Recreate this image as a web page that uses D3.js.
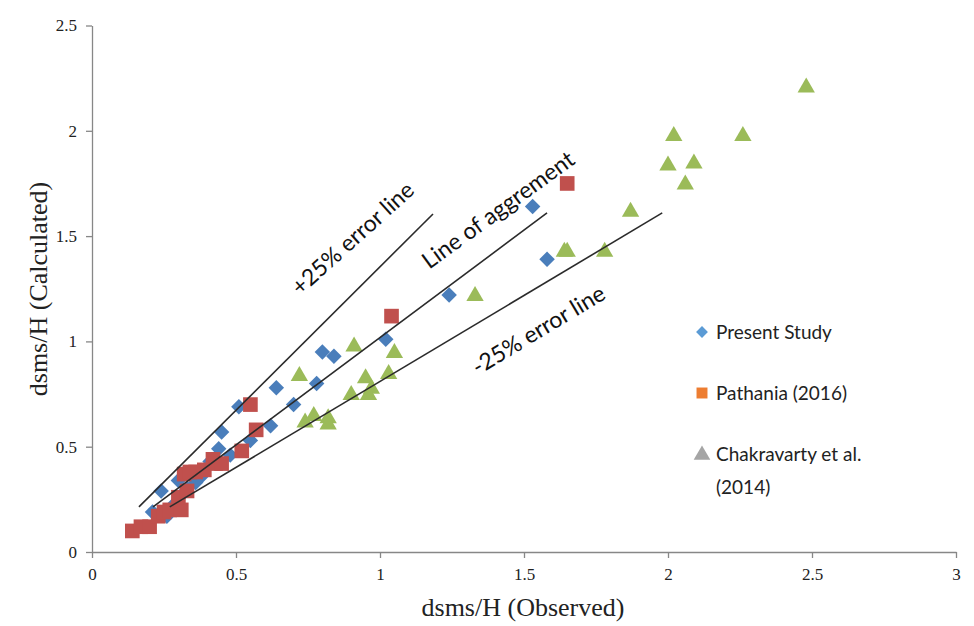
<!DOCTYPE html>
<html>
<head>
<meta charset="utf-8">
<script src="https://cdn.jsdelivr.net/npm/d3@7"></script>
<style>
  body { margin: 0; background: #fff; }
  svg { display: block; }
</style>
</head>
<body>
<svg id="chart" width="974" height="626"></svg>
<script>
// Present Study (blue diamonds): [observed, calculated]
let presentStudy = [
  [0.21, 0.19], [0.26, 0.17], [0.28, 0.22], [0.24, 0.29], [0.31, 0.27],
  [0.30, 0.34], [0.33, 0.30], [0.36, 0.33], [0.38, 0.36], [0.41, 0.43],
  [0.48, 0.46], [0.44, 0.49], [0.55, 0.53], [0.45, 0.57], [0.51, 0.69],
  [0.62, 0.60], [0.64, 0.78], [0.70, 0.70], [0.78, 0.80], [0.80, 0.95],
  [0.84, 0.93], [1.02, 1.01], [1.24, 1.22], [1.53, 1.64], [1.58, 1.39]
];

// Pathania (2016) (red squares)
let pathania = [
  [0.14, 0.10], [0.17, 0.12], [0.20, 0.12], [0.23, 0.17], [0.25, 0.19],
  [0.27, 0.20], [0.31, 0.20], [0.30, 0.26], [0.33, 0.29], [0.32, 0.37],
  [0.34, 0.38], [0.36, 0.38], [0.39, 0.39], [0.42, 0.44], [0.43, 0.42],
  [0.45, 0.42], [0.52, 0.48], [0.57, 0.58], [0.55, 0.70], [1.04, 1.12],
  [1.65, 1.75]
];

// Chakravarty et al. (2014) (green triangles)
let chakravarty = [
  [0.72, 0.84], [0.74, 0.62], [0.77, 0.65], [0.82, 0.64], [0.82, 0.61],
  [0.91, 0.98], [0.95, 0.83], [0.97, 0.78], [0.90, 0.75], [0.96, 0.75],
  [1.03, 0.85], [1.05, 0.95], [1.33, 1.22], [1.64, 1.43], [1.65, 1.43],
  [1.78, 1.43], [1.87, 1.62], [2.00, 1.84], [2.02, 1.98], [2.06, 1.75],
  [2.09, 1.85], [2.26, 1.98], [2.48, 2.21]
];

// reference lines: [[x1, y1], [x2, y2]]
let plus25Line = [[0.163, 0.214], [1.184, 1.605]];
let agreementLine = [[0.212, 0.214], [1.58, 1.61]];
let minus25Line = [[0.27, 0.214], [1.98, 1.61]];

// line labels: text, centre (data units), angle
let lineLabels = [
  { text: "+25% error line", x: 0.905, y: 1.49, angle: -42 },
  { text: "Line of aggrement", x: 1.41, y: 1.625, angle: -36 },
  { text: "-25% error line", x: 1.55, y: 1.055, angle: -31 }
];

let xTicks = [0, 0.5, 1, 1.5, 2, 2.5, 3];
let yTicks = [0, 0.5, 1, 1.5, 2, 2.5];

let legendItems = [
  { name: ["Present Study"], shape: "diamond", color: "#5B9BD5" },
  { name: ["Pathania (2016)"], shape: "square", color: "#ED7D31" },
  { name: ["Chakravarty et al.", "(2014)"], shape: "triangle", color: "#A5A5A5" }
];

let svg = d3.select("#chart");

let x = d3.scaleLinear().domain([0, 3]).range([92, 956]);
let y = d3.scaleLinear().domain([0, 2.5]).range([552, 25.5]);

let axisColor = "#878787";

// x axis
let xAxis = svg.append("g")
  .attr("transform", "translate(0," + y(0) + ")")
  .call(d3.axisBottom(x).tickValues(xTicks).tickSize(6).tickSizeOuter(0).tickFormat(d3.format("")));
xAxis.select(".domain").attr("stroke", axisColor).attr("stroke-width", 1.3);
xAxis.selectAll(".tick line").attr("stroke", axisColor).attr("stroke-width", 1.3);
xAxis.selectAll(".tick text")
  .attr("font-family", "Liberation Serif, serif")
  .attr("font-size", 17)
  .attr("fill", "#222")
  .attr("y", 12)
  .attr("dy", "0.95em");

// y axis
let yAxis = svg.append("g")
  .attr("transform", "translate(" + x(0) + ",0)")
  .call(d3.axisLeft(y).tickValues(yTicks).tickSize(6).tickSizeOuter(0).tickFormat(d3.format("")));
yAxis.select(".domain").attr("stroke", axisColor).attr("stroke-width", 1.3);
yAxis.selectAll(".tick line").attr("stroke", axisColor).attr("stroke-width", 1.3);
yAxis.selectAll(".tick text")
  .attr("font-family", "Liberation Serif, serif")
  .attr("font-size", 17)
  .attr("fill", "#222")
  .attr("x", -15);

// axis titles
svg.append("text")
  .attr("x", (x(0) + x(3)) / 2 - 1)
  .attr("y", 616)
  .attr("text-anchor", "middle")
  .attr("font-family", "Liberation Serif, serif")
  .attr("font-size", 26)
  .attr("fill", "#222")
  .text("dsms/H (Observed)");

svg.append("text")
  .attr("transform", "translate(47," + 289 + ") rotate(-90)")
  .attr("text-anchor", "middle")
  .attr("font-family", "Liberation Serif, serif")
  .attr("font-size", 26)
  .attr("fill", "#222")
  .text("dsms/H (Calculated)");

// markers
let drawSeries = (data, shapeGen, color, rot, dy) => {
  svg.append("g")
    .selectAll("path")
    .data(data)
    .enter()
    .append("path")
    .attr("d", shapeGen)
    .attr("transform", (d) => "translate(" + x(d[0]) + "," + (y(d[1]) + dy) + ") rotate(" + rot + ")")
    .attr("fill", color);
};

drawSeries(presentStudy, d3.symbol().type(d3.symbolSquare).size(120), "#4A7EBB", 45, 0);
drawSeries(pathania, d3.symbol().type(d3.symbolSquare).size(215), "#C0504D", 0, 0);
drawSeries(chakravarty, d3.symbol().type(d3.symbolTriangle).size(130), "#9BBB59", 0, 1);

// reference lines
let lineGen = d3.line().x((d) => x(d[0])).y((d) => y(d[1]));
[plus25Line, agreementLine, minus25Line].forEach((ln) => {
  svg.append("path")
    .attr("d", lineGen(ln))
    .attr("stroke", "#2b2b2b")
    .attr("stroke-width", 1.6)
    .attr("fill", "none");
});

// line labels
svg.append("g")
  .selectAll("text")
  .data(lineLabels)
  .enter()
  .append("text")
  .attr("transform", (d) => "translate(" + x(d.x) + "," + y(d.y) + ") rotate(" + d.angle + ")")
  .attr("text-anchor", "middle")
  .attr("dy", "0.35em")
  .attr("font-family", "Lato, sans-serif")
  .attr("font-size", 23)
  .attr("fill", "#111")
  .text((d) => d.text);

// legend
let legend = svg.append("g").attr("transform", "translate(702,332)");
legendItems.forEach((item, i) => {
  let g = legend.append("g").attr("transform", "translate(0," + i * 61 + ")");
  if (item.shape === "diamond") {
    g.append("path")
      .attr("d", d3.symbol().type(d3.symbolSquare).size(70))
      .attr("transform", "rotate(45)")
      .attr("fill", item.color);
  } else if (item.shape === "square") {
    g.append("path")
      .attr("d", d3.symbol().type(d3.symbolSquare).size(120))
      .attr("fill", item.color);
  } else {
    g.append("path")
      .attr("d", d3.symbol().type(d3.symbolTriangle).size(120))
      .attr("transform", "translate(0,1)")
      .attr("fill", item.color);
  }
  item.name.forEach((line, j) => {
    g.append("text")
      .attr("x", 14)
      .attr("y", j * 33)
      .attr("dy", "0.35em")
      .attr("font-family", "Lato, sans-serif")
      .attr("font-size", 19)
      .attr("fill", "#222")
      .text(line);
  });
});
</script>
</body>
</html>
